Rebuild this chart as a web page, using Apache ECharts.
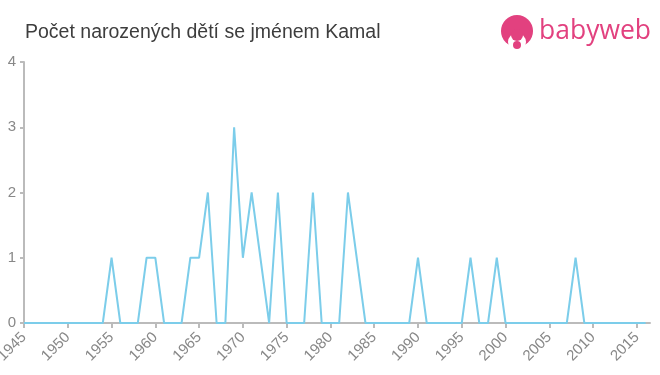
<!DOCTYPE html>
<html>
<head>
<meta charset="utf-8">
<script src="https://cdn.jsdelivr.net/npm/echarts@6/dist/echarts.min.js"></script>
<style>html,body{margin:0;padding:0;background:#fff}#c{width:660px;height:375px}</style>
</head>
<body>
<div id="c"></div>
<script>
var years = [];
for (var y = 1945; y <= 2016; y++) years.push(y);
var counts = [
  0,0,0,0,0, 0,0,0,0,0,   // 1945-1954
  1,0,0,0,1, 1,0,0,0,1,   // 1955-1964
  1,2,0,0,3, 1,2,1,0,2,   // 1965-1974
  0,0,0,2,0, 0,0,2,1,0,   // 1975-1984
  0,0,0,0,0, 1,0,0,0,0,   // 1985-1994
  0,1,0,0,1, 0,0,0,0,0,   // 1995-2004
  0,0,0,1,0, 0,0,0,0,0,   // 2005-2014
  0,0                     // 2015-2016
];
var xTicks = [1945,1950,1955,1960,1965,1970,1975,1980,1985,1990,1995,2000,2005,2010,2015];
var yTicks = [0,1,2,3,4];
var titleText = 'Počet narozených dětí se jménem Kamal';

var data = years.map(function(v,i){return [v, counts[i]];});
var chart = echarts.init(document.getElementById('c'));
chart.setOption({
  animation: false,
  title: {
    text: titleText, left: 20, top: 18,
    textStyle: {fontFamily: 'Liberation Sans, Arial, sans-serif', fontSize: 19.5, fontWeight: 'normal', color: '#3d3d3d'}
  },
  graphic: [
    {type: 'circle', shape: {cx: 517, cy: 31, r: 16}, style: {fill: '#e2417f'}},
    {type: 'circle', shape: {cx: 517, cy: 42, r: 9}, style: {fill: '#fff'}},
    {type: 'circle', shape: {cx: 517, cy: 35, r: 6}, style: {fill: '#e2417f'}},
    {type: 'circle', shape: {cx: 517, cy: 45, r: 4}, style: {fill: '#e2417f'}},
    {type: 'text', left: 539, top: 18, style: {text: 'babyweb', fill: '#e2417f', font: '26.5px "Open Sans", sans-serif'}}
  ],
  grid: {left: 24, right: 10, top: 62, bottom: 52, containLabel: false, outerBoundsMode: 'none'},
  xAxis: {
    type: 'value', min: 1945, max: 2016.5, interval: 5,
    axisLine: {lineStyle: {color: '#bbb', width: 2}},
    axisTick: {show: true, length: 5, lineStyle: {color: '#bbb', width: 2}, customValues: xTicks},
    axisLabel: {customValues: xTicks, rotate: 45, color: '#888', fontSize: 15, margin: 12,
      fontFamily: 'Liberation Sans, Arial, sans-serif', formatter: function(v){return String(v);}},
    splitLine: {show: false}
  },
  yAxis: {
    type: 'value', min: 0, max: 4, interval: 1,
    axisLine: {show: true, lineStyle: {color: '#bbb', width: 2}},
    axisTick: {show: true, length: 4, lineStyle: {color: '#bbb', width: 2}, customValues: yTicks},
    axisLabel: {customValues: yTicks, color: '#888', fontSize: 15, margin: 8, fontFamily: 'Liberation Sans, Arial, sans-serif'},
    splitLine: {show: false}
  },
  series: [{
    type: 'line', data: data, showSymbol: false, symbol: 'none',
    lineStyle: {color: '#7ccdea', width: 2}
  }]
});
</script>
</body>
</html>
